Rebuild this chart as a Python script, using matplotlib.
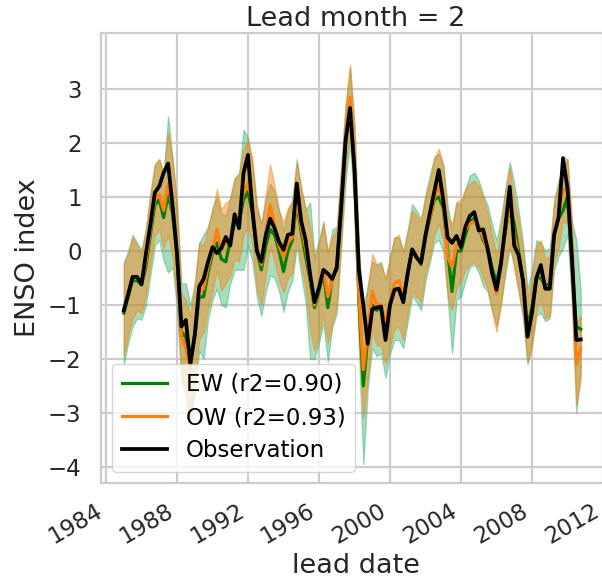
import numpy as np
import pandas as pd
import matplotlib
matplotlib.use("Agg")
import matplotlib.pyplot as plt
import matplotlib.dates as mdates
from datetime import datetime

# quarterly lead dates, 1985 Q1 .. 2010 Q4
dates = pd.date_range("1985-01-01", periods=104, freq="QS")

obs = [-1.10, -0.80, -0.48, -0.48,
       -0.62, -0.05, 0.48, 1.08,
       1.20, 1.45, 1.62, 0.85,
       -0.05, -1.40, -1.28, -2.10,
       -1.55, -0.66, -0.52, -0.20,
       0.07, -0.04, 0.05, 0.26,
       0.10, 0.68, 0.42, 1.45,
       1.78, 0.75, 0.00, -0.20,
       0.30, 0.60, 0.42, 0.17,
       0.02, 0.30, 0.32, 1.25,
       0.55, 0.20, -0.42, -0.95,
       -0.68, -0.35, -0.42, -0.52,
       -0.30, 0.80, 2.05, 2.65,
       1.50, -0.35, -1.00, -1.72,
       -1.08, -1.05, -1.03, -1.65,
       -1.00, -0.72, -0.70, -0.95,
       -0.40, 0.03, -0.12, -0.22,
       0.30, 0.70, 1.10, 1.50,
       0.95, 0.25, 0.15, 0.28,
       0.07, 0.45, 0.65, 0.72,
       0.38, 0.40, 0.05, -0.40,
       -0.72, -0.25, 0.45, 1.19,
       0.10, -0.08, -0.55, -1.59,
       -1.15, -0.50, -0.26, -0.70,
       -0.70, 0.30, 0.62, 1.72,
       1.16, -0.10, -1.65, -1.64]

ew = [-1.15, -0.85, -0.55, -0.55,
      -0.62, -0.30, 0.30, 0.85,
      0.95, 0.62, 1.05, 0.70,
      -0.10, -1.50, -1.60, -2.10,
      -1.60, -0.85, -0.85, -0.40,
      -0.05, 0.15, -0.15, -0.20,
      0.20, 0.50, 0.55, 0.95,
      1.10, 0.70, 0.00, -0.35,
      0.10, 0.40, 0.30, 0.00,
      -0.38, 0.00, 0.20, 0.90,
      0.35, -0.10, -0.55, -1.05,
      -0.75, -0.40, -1.05, -0.50,
      -0.35, 0.80, 2.00, 2.70,
      1.50, -0.90, -2.50, -1.60,
      -1.00, -1.10, -1.05, -1.45,
      -1.00, -0.70, -0.70, -0.90,
      -0.45, 0.02, -0.10, -0.25,
      0.25, 0.60, 0.95, 1.00,
      0.80, 0.00, -0.75, 0.00,
      0.00, 0.30, 0.55, 0.60,
      0.45, 0.20, 0.05, -0.30,
      -0.60, -0.20, 0.35, 0.85,
      0.50, 0.00, -0.55, -1.40,
      -1.05, -0.50, -0.50, -0.65,
      -0.60, 0.30, 0.60, 0.75,
      1.00, -0.20, -1.40, -1.45]

ow = [-1.10, -0.80, -0.50, -0.50,
      -0.60, -0.20, 0.40, 0.95,
      1.05, 0.75, 1.25, 0.80,
      0.00, -1.60, -1.80, -2.20,
      -1.50, -0.75, -0.70, -0.30,
      0.00, 0.40, 0.02, 0.15,
      0.25, 0.60, 0.60, 1.10,
      1.25, 0.90, 0.05, -0.25,
      0.30, 0.85, 0.50, 0.10,
      -0.12, 0.15, 0.25, 0.95,
      0.45, 0.05, -0.50, -1.00,
      -0.70, -0.35, -0.85, -0.55,
      -0.30, 0.85, 2.10, 2.85,
      1.60, -0.80, -2.20, -1.50,
      -0.75, -1.00, -1.00, -1.30,
      -0.95, -0.60, -0.55, -0.85,
      -0.40, 0.00, -0.10, -0.20,
      0.30, 0.60, 1.00, 1.20,
      0.90, -0.10, -0.30, 0.10,
      0.20, 0.40, 0.50, 0.55,
      0.45, 0.25, 0.00, -0.40,
      -0.80, -0.30, 0.40, 0.85,
      0.30, -0.10, -0.60, -1.45,
      -1.15, -0.50, -0.35, -0.70,
      -0.65, 0.35, 0.65, 1.15,
      1.10, -0.10, -2.10, -1.80]

# ensemble spread (one std) for each weighting
ew_sd = [0.95, 0.85, 0.85, 0.70,
         0.65, 0.70, 0.75, 0.75,
         0.75, 0.80, 1.45, 1.00,
         0.95, 0.90, 1.00, 1.10,
         1.00, 1.00, 1.15, 0.85,
         0.85, 0.85, 0.85, 0.85,
         0.80, 0.85, 0.90, 1.30,
         1.00, 0.90, 0.85, 0.85,
         0.85, 0.85, 0.80, 0.75,
         0.75, 0.75, 0.75, 0.80,
         0.80, 0.85, 1.45, 0.95,
         0.95, 0.95, 1.00, 0.90,
         0.80, 0.75, 0.70, 0.70,
         0.80, 0.90, 1.45, 0.95,
         0.80, 0.85, 0.85, 0.90,
         0.90, 0.95, 0.95, 0.90,
         0.85, 0.85, 0.85, 0.85,
         0.80, 0.80, 0.80, 0.80,
         0.80, 0.85, 1.15, 0.90,
         0.85, 0.85, 0.85, 0.85,
         0.85, 0.85, 0.80, 0.80,
         0.80, 0.80, 0.80, 0.80,
         0.75, 0.75, 0.70, 0.70,
         0.70, 0.70, 0.65, 0.65,
         0.65, 0.65, 0.70, 0.70,
         0.70, 0.75, 1.60, 0.70]

ow_sd = [0.85, 0.75, 0.75, 0.60,
         0.55, 0.60, 0.65, 0.65,
         0.65, 0.70, 0.95, 0.90,
         0.85, 0.80, 0.90, 1.00,
         0.90, 0.90, 0.80, 0.75,
         0.75, 0.75, 0.75, 0.75,
         0.70, 0.75, 0.80, 0.80,
         0.80, 0.80, 0.75, 0.75,
         0.75, 0.75, 0.70, 0.65,
         0.65, 0.65, 0.65, 0.70,
         0.70, 0.75, 0.95, 0.85,
         0.85, 0.85, 0.85, 0.80,
         0.70, 0.65, 0.60, 0.60,
         0.70, 0.80, 0.90, 0.85,
         0.70, 0.75, 0.75, 0.80,
         0.80, 0.85, 0.85, 0.80,
         0.75, 0.75, 0.75, 0.75,
         0.70, 0.70, 0.70, 0.70,
         0.70, 0.75, 0.80, 0.80,
         0.75, 0.75, 0.75, 0.75,
         0.75, 0.75, 0.70, 0.70,
         0.70, 0.70, 0.70, 0.70,
         0.65, 0.65, 0.60, 0.60,
         0.60, 0.60, 0.55, 0.55,
         0.55, 0.55, 0.60, 0.60,
         0.60, 0.65, 0.75, 0.60]

labels = ["EW (r2=0.90)", "OW (r2=0.93)", "Observation"]

TICK_FS = 16.5
LABEL_FS = 19.5
TXT = "#262626"
plt.rcParams["font.family"] = "DejaVu Sans"
plt.rcParams["font.size"] = TICK_FS

fig = plt.figure(figsize=(6.02, 5.86), dpi=100)
ax = fig.add_axes([0.1678, 0.1758, 0.8455, 0.7679])

ew = np.array(ew); ow = np.array(ow)
ew_sd = np.array(ew_sd); ow_sd = np.array(ow_sd)

ax.fill_between(dates, ew - ew_sd, ew + ew_sd, color="mediumseagreen", alpha=0.45, lw=1)
ax.fill_between(dates, ow - ow_sd, ow + ow_sd, color="tab:orange", alpha=0.45, lw=1)
ax.plot(dates, ew, color="green", lw=2.3, label=labels[0])
ax.plot(dates, ow, color="#ff7f0e", lw=2.3, label=labels[1])
ax.plot(dates, obs, color="black", lw=2.7, label=labels[2])

ax.set_xlim(datetime(1983, 9, 20), datetime(2012, 5, 25))
ax.set_ylim(-4.30, 4.04)
ax.set_yticks(range(-4, 4))
ax.xaxis.set_major_locator(mdates.YearLocator(4))
ax.xaxis.set_major_formatter(mdates.DateFormatter("%Y"))
plt.setp(ax.get_xticklabels(), rotation=30, ha="right")

ax.grid(True, color="#cccccc", lw=1.6)
ax.set_axisbelow(True)
for s in ax.spines.values():
    s.set_color("#cccccc")
    s.set_linewidth(1.6)
ax.tick_params(axis="y", length=0, pad=14, labelsize=TICK_FS, colors=TXT)
ax.tick_params(axis="x", length=0, pad=12, labelsize=TICK_FS, colors=TXT)

ax.set_title("Lead month = 2", fontsize=LABEL_FS, color=TXT, pad=5)
ax.set_xlabel("lead date", fontsize=LABEL_FS, color=TXT, labelpad=3)
ax.set_ylabel("ENSO index", fontsize=LABEL_FS, color=TXT, labelpad=5)

ax.legend(loc="lower left", fontsize=TICK_FS, framealpha=0.8, edgecolor="#cccccc",
          handlelength=2.0, labelspacing=0.45, borderpad=0.4)

fig.savefig("out.png", dpi=100)
